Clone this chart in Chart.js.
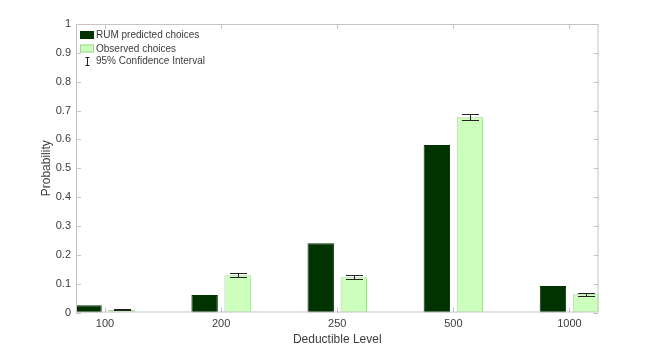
<!DOCTYPE html>
<html>
<head>
<meta charset="utf-8">
<script src="https://cdn.jsdelivr.net/npm/chart.js@4"></script>
<style>
  body { margin: 0; background: #fff; }
  #wrap { width: 663px; height: 352px; }
</style>
</head>
<body>
<div id="wrap"><canvas id="chart" width="663" height="352"></canvas></div>
<script>
// values
var deductibles = ['100', '200', '250', '500', '1000'];
var rumPredicted = [0.025, 0.061, 0.240, 0.581, 0.092];
var observed = [0.009, 0.129, 0.122, 0.677, 0.063];
var ciLow = [0.007, 0.122, 0.115, 0.666, 0.058];
var ciHigh = [0.012, 0.137, 0.131, 0.687, 0.069];
var yTicks = [0, 0.1, 0.2, 0.3, 0.4, 0.5, 0.6, 0.7, 0.8, 0.9, 1];

var axisColor = '#c4c4c4';
var textColor = '#3c3c3c';
var darkGreen = '#003300';
var lightGreen = '#ccffbb';
var lightEdge = '#a3d496';

function points(values){
    return values.map(function(v, i){ return {x: i + 1, y: v}; });
}

// box around plot with inward ticks, like the matlab figure
var boxPlugin = {
    id: 'box',
    afterDatasetsDraw: function(chart){
        var ctx = chart.ctx, a = chart.chartArea;
        var xs = chart.scales.x, ys = chart.scales.y;
        ctx.save();
        ctx.strokeStyle = axisColor;
        ctx.lineWidth = 1;
        ctx.strokeRect(a.left + 0.5, a.top + 0.5, a.right - a.left - 1, a.bottom - a.top - 1);
        ctx.beginPath();
        yTicks.forEach(function(t){
            var y = Math.round(ys.getPixelForValue(t)) + 0.5;
            ctx.moveTo(a.left, y); ctx.lineTo(a.left + 5, y);
            ctx.moveTo(a.right, y); ctx.lineTo(a.right - 5, y);
        });
        deductibles.forEach(function(d, i){
            var x = Math.round(xs.getPixelForValue(i + 1)) + 0.5;
            ctx.moveTo(x, a.bottom); ctx.lineTo(x, a.bottom - 5);
            ctx.moveTo(x, a.top); ctx.lineTo(x, a.top + 5);
        });
        ctx.stroke();
        ctx.restore();
    }
};

var errorBarPlugin = {
    id: 'errorBars',
    afterDatasetsDraw: function(chart){
        var ctx = chart.ctx;
        var ys = chart.scales.y;
        var meta = chart.getDatasetMeta(1);
        ctx.save();
        ctx.strokeStyle = '#222222';
        ctx.lineWidth = 1;
        meta.data.forEach(function(bar, i){
            var x = Math.round(bar.x) + 0.5;
            var lo = Math.round(ys.getPixelForValue(ciLow[i])) + 0.5;
            var hi = Math.round(ys.getPixelForValue(ciHigh[i])) + 0.5;
            ctx.beginPath();
            ctx.moveTo(x, lo); ctx.lineTo(x, hi);
            ctx.moveTo(x - 8.5, lo); ctx.lineTo(x + 8.5, lo);
            ctx.moveTo(x - 8.5, hi); ctx.lineTo(x + 8.5, hi);
            ctx.stroke();
        });
        ctx.restore();
    }
};

var legendPlugin = {
    id: 'innerLegend',
    afterDraw: function(chart){
        var ctx = chart.ctx;
        var x0 = 80;
        ctx.save();
        ctx.font = '10px "Liberation Sans", Arial, sans-serif';
        ctx.fillStyle = textColor;
        ctx.textBaseline = 'middle';
        chart.data.datasets.forEach(function(ds, i){
            var y = 31 + i * 13.5;
            ctx.fillStyle = ds.backgroundColor;
            ctx.fillRect(x0, y, 14, 8);
            ctx.strokeStyle = ds.borderColor;
            ctx.strokeRect(x0 + 0.5, y + 0.5, 13, 7);
            ctx.fillStyle = textColor;
            ctx.fillText(ds.label, x0 + 16, y + 4.5);
        });
        // error bar glyph
        var gx = 87.5, gy = 61.5;
        ctx.strokeStyle = '#222222';
        ctx.beginPath();
        ctx.moveTo(gx, gy - 4); ctx.lineTo(gx, gy + 4);
        ctx.moveTo(gx - 2, gy - 4); ctx.lineTo(gx + 2, gy - 4);
        ctx.moveTo(gx - 2, gy + 4); ctx.lineTo(gx + 2, gy + 4);
        ctx.stroke();
        ctx.fillText('95% Confidence Interval', x0 + 16, gy);
        ctx.restore();
    }
};

function drawChart(){
    var ctx = document.getElementById('chart');
    var tickFont = { family: '"Liberation Sans", Arial, sans-serif', size: 11 };
    var titleFont = { family: '"Liberation Sans", Arial, sans-serif', size: 12 };

    var myChart = new Chart(ctx, {
        type: 'bar',
        data: {
            datasets: [{
                label: 'RUM predicted choices',
                data: points(rumPredicted),
                backgroundColor: darkGreen,
                borderColor: darkGreen,
                borderWidth: 1
            }, {
                label: 'Observed choices',
                data: points(observed),
                backgroundColor: lightGreen,
                borderColor: lightEdge,
                borderWidth: 1
            }]
        },
        options: {
            responsive: false,
            animation: false,
            categoryPercentage: 0.569,
            barPercentage: 0.8,
            layout: { padding: { left: 0, top: 24, right: 64.5, bottom: 0 } },
            plugins: {
                legend: { display: false },
                tooltip: { enabled: false }
            },
            scales: {
                x: {
                    type: 'linear',
                    offset: false,
                    min: 0.75,
                    max: 5.25,
                    grid: { display: false, drawTicks: false, offset: false },
                    border: { display: false },
                    afterBuildTicks: function(axis){
                        axis.ticks = deductibles.map(function(d, i){ return {value: i + 1}; });
                    },
                    afterFit: function(axis){ axis.height = 39.5; },
                    ticks: {
                        font: tickFont,
                        color: textColor,
                        padding: 5,
                        maxRotation: 0,
                        callback: function(v){ return deductibles[v - 1]; }
                    },
                    title: {
                        display: true,
                        text: 'Deductible Level',
                        font: titleFont,
                        color: textColor,
                        padding: { top: 0, bottom: 5 }
                    }
                },
                y: {
                    min: 0,
                    max: 1,
                    grid: { display: false, drawTicks: false },
                    border: { display: false },
                    afterBuildTicks: function(axis){
                        axis.ticks = yTicks.map(function(v){ return {value: v}; });
                    },
                    afterFit: function(axis){ axis.width = 76; },
                    ticks: {
                        font: tickFont,
                        color: textColor,
                        padding: 5,
                        callback: function(v){ return String(Math.round(v * 10) / 10); }
                    },
                    title: {
                        display: true,
                        text: 'Probability',
                        font: titleFont,
                        color: textColor,
                        padding: { top: 39, bottom: 0 }
                    }
                }
            }
        },
        plugins: [boxPlugin, errorBarPlugin, legendPlugin]
    });
}

drawChart();
</script>
</body>
</html>
